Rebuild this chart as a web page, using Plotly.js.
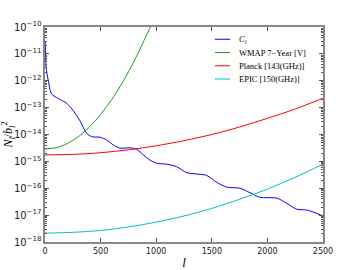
<!DOCTYPE html>
<html>
<head>
<meta charset="utf-8">
<script src="https://cdn.plot.ly/plotly-3.0.1.min.js"></script>
<style>html,body{margin:0;padding:0;background:#fff;}#chart{width:360px;height:270px;}</style>
</head>
<body>
<div id="chart"></div>
<script>
// Multipole l and values
const clL = [2, 10, 30, 60, 120, 195, 255, 315, 375, 420, 495, 555, 614, 674, 764, 825, 884, 944, 1004, 1094, 1184, 1274, 1364, 1454, 1544, 1634, 1754, 1844, 1933, 2084, 2174, 2264, 2353, 2428, 2500];
const clV = [3.0e-11, 3.2e-12, 1.0e-12, 3.2e-13, 2.2e-13, 1.45e-13, 7.6e-14, 3.2e-14, 1.12e-14, 8.3e-15, 7.9e-15, 6.3e-15, 4.1e-15, 3.1e-15, 3.2e-15, 2.8e-15, 1.74e-15, 1.12e-15, 8.5e-16, 7.9e-16, 6.3e-16, 3.8e-16, 3.4e-16, 3.0e-16, 1.66e-16, 1.10e-16, 1.0e-16, 6.8e-17, 4.6e-17, 4.3e-17, 2.75e-17, 1.66e-17, 1.55e-17, 1.23e-17, 9.3e-18];

const wmapL = [0, 100, 200, 300, 400, 500, 600, 700, 800, 900, 960];
const wmapV = [2.9e-15, 3.2e-15, 4.6e-15, 8.3e-15, 1.9e-14, 5.6e-14, 2.0e-13, 9.1e-13, 5.2e-12, 3.8e-11, 1.3e-10];

const planckL = [0, 250, 500, 750, 1000, 1250, 1500, 1750, 2000, 2250, 2500];
const planckV = [1.74e-15, 1.82e-15, 2.1e-15, 2.7e-15, 3.8e-15, 5.9e-15, 1.0e-14, 1.9e-14, 4.0e-14, 8.9e-14, 2.24e-13];

const epicL = [0, 250, 500, 750, 1000, 1250, 1500, 1750, 2000, 2250, 2500];
const epicV = [2.14e-18, 2.29e-18, 2.69e-18, 3.63e-18, 5.5e-18, 9.3e-18, 1.78e-17, 3.9e-17, 9.3e-17, 2.57e-16, 7.9e-16];

const names = ['<i>C<sub>l</sub></i>', 'WMAP 7\u2212Year [V]', 'Planck [143(GHz)]', 'EPIC [150(GHz)]'];
const colors = ['#0000ff', '#1e9a1e', '#ff0000', '#00bfbf'];
const xTickVals = [0, 500, 1000, 1500, 2000, 2500];

const mk = (x, y, name, color) => ({
  x: x, y: y, name: name, type: 'scatter', mode: 'lines', showlegend: false,
  line: {color: color, width: 1, shape: 'spline', smoothing: 0.8}
});

const data = [
  mk(clL, clV, names[0], colors[0]),
  mk(wmapL, wmapV, names[1], colors[1]),
  mk(planckL, planckV, names[2], colors[2]),
  mk(epicL, epicV, names[3], colors[3])
];

// Compact legend (sample line + label) placed in the upper right of the axes
const legX0 = 0.6115, legX1 = 0.6655, legTx = 0.692, legY0 = 0.943, legDy = 0.0617;
const shapes = names.map((n, i) => ({
  type: 'line', xref: 'paper', yref: 'paper',
  x0: legX0, x1: legX1, y0: legY0 - i * legDy, y1: legY0 - i * legDy,
  line: {color: colors[i], width: 1}
}));
const annotations = names.map((n, i) => ({
  text: n, xref: 'paper', yref: 'paper', x: legTx, y: legY0 - i * legDy,
  xanchor: 'left', yanchor: 'middle', showarrow: false,
  font: {family: 'Liberation Serif', size: 8.5, color: '#000'}
}));

const axisCommon = {
  showline: true, linecolor: '#888', linewidth: 2, mirror: 'ticks',
  ticks: 'inside', tickcolor: '#555', ticklen: 4, tickwidth: 1,
  showgrid: false, zeroline: false,
  tickfont: {family: 'DejaVu Sans', size: 8, color: '#222'}
};

const layout = {
  width: 360, height: 270,
  margin: {l: 45, r: 37, t: 27, b: 28},
  paper_bgcolor: '#fff', plot_bgcolor: '#fff',
  showlegend: false,
  shapes: shapes,
  annotations: annotations,
  xaxis: Object.assign({}, axisCommon, {
    range: [0, 2500], tickvals: xTickVals, ticktext: xTickVals.map(String),
    title: {text: '<i>l</i>', font: {family: 'Liberation Serif', size: 13, color: '#000'}, standoff: 3}
  }),
  yaxis: Object.assign({}, axisCommon, {
    type: 'log', range: [-18, -10], dtick: 1, exponentformat: 'power',
    minor: {ticks: 'inside', ticklen: 2, tickcolor: '#555', dtick: 'D1'},
    title: {text: '<i>N<sub>l</sub></i>/<i>b<sub>l</sub></i><sup>2</sup>', font: {family: 'Liberation Serif', size: 12, color: '#000'}, standoff: 6}
  })
};

Plotly.newPlot('chart', data, layout, {displayModeBar: false, staticPlot: true});
</script>
</body>
</html>
